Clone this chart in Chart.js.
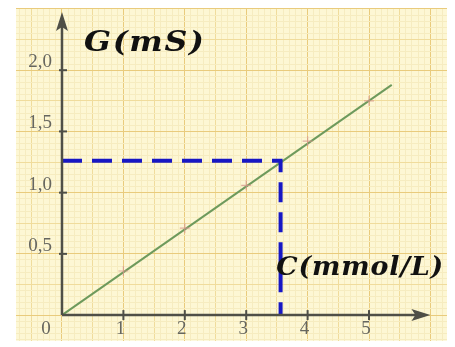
<!DOCTYPE html>
<html>
<head>
<meta charset="utf-8">
<script src="https://cdn.jsdelivr.net/npm/chart.js@4/dist/chart.umd.min.js"></script>
<style>
html,body{margin:0;padding:0;background:#fff;}
#wrap{width:455px;height:347px;}
canvas{display:block;}
</style>
</head>
<body>
<div id="wrap"><canvas id="c" width="455" height="347"></canvas></div>
<script>
// ---- data ----
const concentration = [1, 2, 3, 4, 5];            // C (mmol/L) of measured points
const conductance   = [0.36, 0.71, 1.06, 1.42, 1.75]; // G (mS)
const fitC = [0, 5.37];                          // fitted straight line
const fitG = [0, 1.88];
const readC = [0, 3.56, 3.56];                   // dashed reading lines
const readG = [1.26, 1.26, 0];
const xTickValues = [1, 2, 3, 4, 5];
const xTickLabels = ['1', '2', '3', '4', '5'];
const yTickValues = [0.5, 1.0, 1.5, 2.0];
const yTickLabels = ['0,5', '1,0', '1,5', '2,0'];
const originLabel = '0';
const yTitle = 'G(mS)';
const xTitle = 'C(mmol/L)';

const BG = '#fdf7d4', MINOR = '#f6ecc0', MEDIUM = '#f0dc9c', MAJOR = '#e9cb7c';
const AXIS = '#4f4f47';

function pts(xs, ys){ return xs.map((x,i)=>({x:x, y:ys[i]})); }

function wideText(ctx, text, x, y, font, spacing, targetWidth){
  ctx.save();
  ctx.font = font;
  ctx.letterSpacing = spacing + 'px';
  const w = ctx.measureText(text).width - spacing;
  const k = targetWidth / w;
  ctx.translate(x, y);
  ctx.scale(k, 1);
  ctx.fillText(text, 0, 0);
  ctx.restore();
}

const paperPlugin = {
  id: 'paper',
  beforeDraw(chart){
    const a = chart.chartArea, ctx = chart.ctx;
    ctx.save();
    ctx.fillStyle = '#ffffff';
    ctx.fillRect(0,0,chart.width,chart.height);
    ctx.fillStyle = BG;
    ctx.fillRect(a.left, a.top, a.right-a.left, a.bottom-a.top);
    ctx.restore();
  },
  afterDatasetsDraw(chart){
    const ctx = chart.ctx, xs = chart.scales.x, ys = chart.scales.y;
    const x0 = xs.getPixelForValue(0), y0 = ys.getPixelForValue(0);
    ctx.save();
    ctx.strokeStyle = AXIS; ctx.fillStyle = AXIS; ctx.lineWidth = 2.5;
    // y axis
    const yTip = chart.chartArea.top + 4;
    ctx.beginPath(); ctx.moveTo(x0, y0); ctx.lineTo(x0, yTip+14); ctx.stroke();
    ctx.beginPath(); ctx.moveTo(x0, yTip); ctx.lineTo(x0-6, yTip+19); ctx.lineTo(x0, yTip+15); ctx.lineTo(x0+6, yTip+19); ctx.closePath(); ctx.fill();
    // x axis
    const xTip = xs.getPixelForValue(6.0);
    ctx.beginPath(); ctx.moveTo(x0, y0); ctx.lineTo(xTip-14, y0); ctx.stroke();
    ctx.beginPath(); ctx.moveTo(xTip, y0); ctx.lineTo(xTip-19, y0-6); ctx.lineTo(xTip-15, y0); ctx.lineTo(xTip-19, y0+6); ctx.closePath(); ctx.fill();
    // tick marks
    ctx.lineWidth = 2;
    xTickValues.forEach(v=>{ const p = xs.getPixelForValue(v); ctx.beginPath(); ctx.moveTo(p, y0-5); ctx.lineTo(p, y0+5); ctx.stroke(); });
    yTickValues.forEach(v=>{ const p = ys.getPixelForValue(v); ctx.beginPath(); ctx.moveTo(x0-3, p); ctx.lineTo(x0+5, p); ctx.stroke(); });
    // tick labels
    ctx.fillStyle = '#66665f';
    ctx.font = '19px "Liberation Serif", serif';
    ctx.textAlign = 'right'; ctx.textBaseline = 'alphabetic';
    yTickValues.forEach((v,i)=>{ const p = ys.getPixelForValue(v); ctx.fillText(yTickLabels[i], x0-10, p-3); });
    ctx.textAlign = 'center'; ctx.textBaseline = 'top';
    xTickValues.forEach((v,i)=>{ const p = xs.getPixelForValue(v); ctx.fillText(xTickLabels[i], p-3, y0+4); });
    ctx.fillText(originLabel, x0-16, y0+4);
    // axis titles
    ctx.fillStyle = '#111';
    ctx.textAlign = 'left'; ctx.textBaseline = 'alphabetic';
    wideText(ctx, yTitle, x0+22, ys.getPixelForValue(2.16), 'italic bold 28px "DejaVu Serif", serif', 1.5, 120);
    wideText(ctx, xTitle, xs.getPixelForValue(3.49), ys.getPixelForValue(0.33), 'italic bold 26px "DejaVu Serif", serif', 0.8, 167);
    ctx.restore();
  }
};

function gridTicks(scale, from, to, div){
  const t = [];
  for(let i=from;i<=to;i++) t.push({value: i/div});
  scale.ticks = t;
}

new Chart(document.getElementById('c'), {
  type: 'scatter',
  data: {
    datasets: [
      { data: pts(readC, readG), showLine: true, borderColor: '#1717c4', borderWidth: 4,
        borderDash: [20, 10], pointRadius: 0, order: 0, fill: false },
      { data: pts(concentration, conductance), showLine: false, pointStyle: 'cross',
        pointRadius: 5, borderColor: 'rgba(215,150,140,0.75)', borderWidth: 1.2, order: 1 },
      { data: pts(fitC, fitG), showLine: true, borderColor: '#6e9a5c', borderWidth: 2,
        pointRadius: 0, order: 2, fill: false }
    ]
  },
  options: {
    responsive: false, animation: false, devicePixelRatio: 1,
    layout: { padding: { left: 16, top: 8, right: 8, bottom: 2 } },
    plugins: { legend: { display: false }, tooltip: { enabled: false } },
    scales: {
      x: { type: 'linear', min: -0.749, max: 6.27,
        afterBuildTicks: s => gridTicks(s, -7, 62, 10),
        ticks: { display: false }, border: { display: false },
        grid: { drawTicks: false, lineWidth: 1,
          color: c => { const v = Math.round(c.tick.value*10); return v%10===0 ? MAJOR : (v%5===0 ? MEDIUM : MINOR); } } },
      y: { type: 'linear', min: -0.21, max: 2.508,
        afterBuildTicks: s => gridTicks(s, -4, 50, 20),
        ticks: { display: false }, border: { display: false },
        grid: { drawTicks: false, lineWidth: 1,
          color: c => { const v = Math.round(c.tick.value*20); return v%10===0 ? MAJOR : (v%5===0 ? MEDIUM : MINOR); } } }
    }
  },
  plugins: [paperPlugin]
});
</script>
</body>
</html>
